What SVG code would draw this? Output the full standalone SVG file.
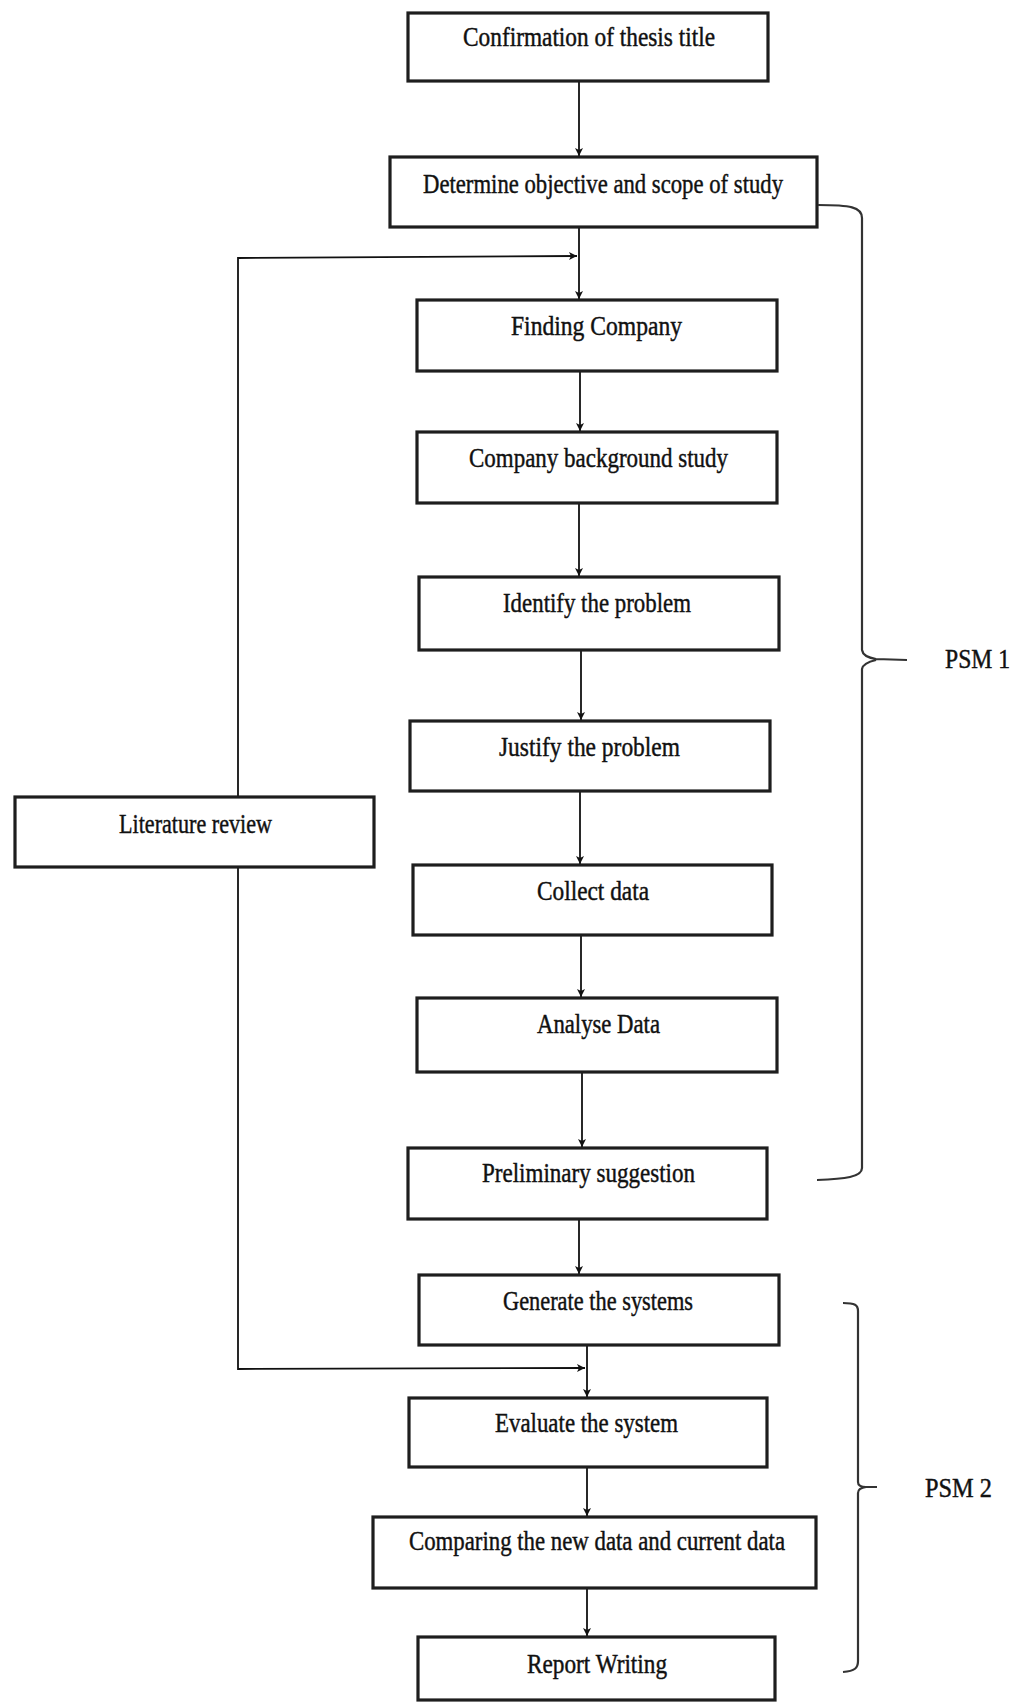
<svg xmlns="http://www.w3.org/2000/svg" width="1022" height="1704" viewBox="0 0 1022 1704">
<style>
.box{fill:#fff;stroke:#1e1e1e;stroke-width:3.2}
.t{font-family:"Liberation Serif","Times New Roman",serif;font-size:28px;fill:#111;stroke:#111;stroke-width:0.45}
.c{fill:none;stroke:#111;stroke-width:1.8}
.b{fill:none;stroke:#333;stroke-width:2.2}
</style>
<defs>
<marker id="ah" markerWidth="10" markerHeight="10" refX="9" refY="5" orient="auto" markerUnits="userSpaceOnUse">
<path d="M1,1 L9,5 L1,9 L3,5 Z" fill="#111"/>
</marker>
</defs>
<rect width="1022" height="1704" fill="#fff"/>
<g id="connectors">
<path class="c" d="M579,81 L579,156" marker-end="url(#ah)"/>
<path class="c" d="M579,227 L579,299" marker-end="url(#ah)"/>
<path class="c" d="M580,371 L580,431" marker-end="url(#ah)"/>
<path class="c" d="M579,503 L579,576" marker-end="url(#ah)"/>
<path class="c" d="M581,650 L581,720" marker-end="url(#ah)"/>
<path class="c" d="M580,791 L580,864" marker-end="url(#ah)"/>
<path class="c" d="M581,935 L581,997" marker-end="url(#ah)"/>
<path class="c" d="M582,1072 L582,1147" marker-end="url(#ah)"/>
<path class="c" d="M579,1219 L579,1274" marker-end="url(#ah)"/>
<path class="c" d="M587,1345 L587,1397" marker-end="url(#ah)"/>
<path class="c" d="M587,1467 L587,1516" marker-end="url(#ah)"/>
<path class="c" d="M587,1588 L587,1636" marker-end="url(#ah)"/>
<path class="c" d="M238,797 L238,258 L577,256" marker-end="url(#ah)"/>
<path class="c" d="M238,867 L238,1369 L585,1368" marker-end="url(#ah)"/>
</g>
<g id="n1"><rect class="box" x="408" y="13" width="360" height="68"/><text class="t" x="463" y="46" textLength="252" lengthAdjust="spacingAndGlyphs">Confirmation of thesis title</text></g>
<g id="n2"><rect class="box" x="390" y="157" width="427" height="70"/><text class="t" x="423" y="193" textLength="360" lengthAdjust="spacingAndGlyphs">Determine objective and scope of study</text></g>
<g id="n3"><rect class="box" x="417" y="300" width="360" height="71"/><text class="t" x="511" y="335" textLength="171" lengthAdjust="spacingAndGlyphs">Finding Company</text></g>
<g id="n4"><rect class="box" x="417" y="432" width="360" height="71"/><text class="t" x="469" y="467" textLength="259" lengthAdjust="spacingAndGlyphs">Company background study</text></g>
<g id="n5"><rect class="box" x="419" y="577" width="360" height="73"/><text class="t" x="503" y="612" textLength="188" lengthAdjust="spacingAndGlyphs">Identify the problem</text></g>
<g id="n6"><rect class="box" x="410" y="721" width="360" height="70"/><text class="t" x="499" y="756" textLength="181" lengthAdjust="spacingAndGlyphs">Justify the problem</text></g>
<g id="n7"><rect class="box" x="413" y="865" width="359" height="70"/><text class="t" x="537" y="900" textLength="112" lengthAdjust="spacingAndGlyphs">Collect data</text></g>
<g id="n8"><rect class="box" x="417" y="998" width="360" height="74"/><text class="t" x="537" y="1033" textLength="123" lengthAdjust="spacingAndGlyphs">Analyse Data</text></g>
<g id="n9"><rect class="box" x="408" y="1148" width="359" height="71"/><text class="t" x="482" y="1182" textLength="213" lengthAdjust="spacingAndGlyphs">Preliminary suggestion</text></g>
<g id="n10"><rect class="box" x="419" y="1275" width="360" height="70"/><text class="t" x="503" y="1310" textLength="190" lengthAdjust="spacingAndGlyphs">Generate the systems</text></g>
<g id="n11"><rect class="box" x="409" y="1398" width="358" height="69"/><text class="t" x="495" y="1432" textLength="183" lengthAdjust="spacingAndGlyphs">Evaluate the system</text></g>
<g id="n12"><rect class="box" x="373" y="1517" width="443" height="71"/><text class="t" x="409" y="1550" textLength="376" lengthAdjust="spacingAndGlyphs">Comparing the new data and current data</text></g>
<g id="n13"><rect class="box" x="418" y="1637" width="357" height="63"/><text class="t" x="527" y="1673" textLength="140" lengthAdjust="spacingAndGlyphs">Report Writing</text></g>
<g id="n14"><rect class="box" x="15" y="797" width="359" height="70"/><text class="t" x="119" y="833" textLength="153" lengthAdjust="spacingAndGlyphs">Literature review</text></g>
<g id="psm1">
<path class="b" d="M818,205 C850,205 862,207 862,218 L862,650 Q863,657 876,659 L907,660 M876,660 Q863,663 862,669 L862,1168 C862,1177 845,1179 817,1180"/>
<text class="t" x="945" y="668" textLength="65" lengthAdjust="spacingAndGlyphs">PSM 1</text>
</g>
<g id="psm2">
<path class="b" d="M843,1303 C855,1303 858,1305 858,1311 L858,1482 Q858,1487 866,1487 L877,1487 M866,1487 Q858,1488 858,1493 L858,1661 C858,1668 855,1671 843,1672"/>
<text class="t" x="925" y="1497" textLength="67" lengthAdjust="spacingAndGlyphs">PSM 2</text>
</g>
</svg>
